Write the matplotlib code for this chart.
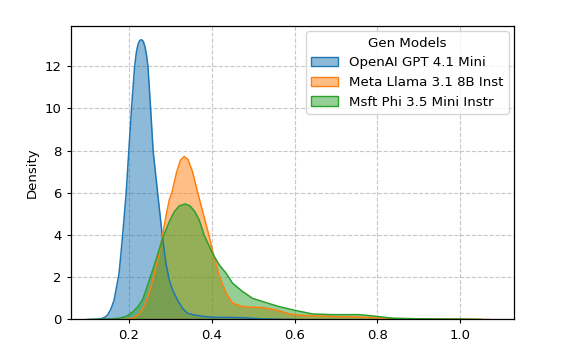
import matplotlib
matplotlib.use("Agg")
import matplotlib.pyplot as plt
from matplotlib.patches import Patch
from matplotlib.colors import to_rgba

models = ["OpenAI GPT 4.1 Mini", "Meta Llama 3.1 8B Inst", "Msft Phi 3.5 Mini Instr"]
colors = ["#1f77b4", "#ff7f0e", "#2ca02c"]

gpt_x = [0.105, 0.118, 0.128, 0.136, 0.143, 0.149, 0.157, 0.165, 0.177, 0.186, 0.194, 0.2005, 0.207,
         0.2145, 0.219, 0.223, 0.227, 0.231, 0.235, 0.239, 0.243, 0.2465, 0.2530, 0.2590, 0.270,
         0.281, 0.290, 0.298, 0.306, 0.318, 0.330, 0.342, 0.362, 0.387, 0.410, 0.440, 0.480, 0.520,
         0.560, 0.600]
gpt_y = [0.0, 0.005, 0.02, 0.05, 0.11, 0.21, 0.48, 0.92, 2.19, 4.08, 5.98, 8.0, 10.0,
         12.0, 12.7, 13.05, 13.22, 13.25, 13.18, 12.95, 12.55, 12.0, 10.0, 8.0, 5.98,
         4.0, 2.66, 1.87, 1.40, 0.92, 0.53, 0.29, 0.20, 0.13, 0.10, 0.10, 0.08, 0.03,
         0.01, 0.0]

llama_x = [0.190, 0.210, 0.222, 0.234, 0.246, 0.256, 0.266, 0.274, 0.282, 0.290, 0.298, 0.305,
           0.316, 0.325, 0.334, 0.343, 0.354, 0.366, 0.380, 0.393, 0.403, 0.419, 0.435, 0.451,
           0.475, 0.500, 0.523, 0.555, 0.588, 0.612, 0.650, 0.700, 0.750, 0.800, 0.850, 0.900,
           1.000, 1.070]
llama_y = [0.0, 0.06, 0.20, 0.50, 1.05, 1.70, 2.50, 3.20, 4.0, 4.9, 5.66, 6.06,
           7.0, 7.55, 7.72, 7.58, 7.0, 6.06, 5.0, 4.04, 3.2, 2.03, 1.24, 0.77,
           0.61, 0.58, 0.56, 0.45, 0.26, 0.20, 0.17, 0.14, 0.12, 0.08, 0.03, 0.02,
           0.01, 0.0]

phi_x = [0.100, 0.130, 0.160, 0.177, 0.195, 0.210, 0.222, 0.234, 0.250, 0.266, 0.282, 0.298,
         0.310, 0.322, 0.336, 0.348, 0.360, 0.370, 0.382, 0.402, 0.418, 0.435, 0.451, 0.475,
         0.499, 0.531, 0.563, 0.604, 0.644, 0.692, 0.756, 0.788, 0.837, 0.900, 1.000, 1.050]
phi_y = [0.0, 0.01, 0.03, 0.06, 0.15, 0.35, 0.60, 0.95, 1.87, 2.82, 3.85, 4.63,
         5.10, 5.38, 5.47, 5.38, 5.10, 4.72, 4.0, 3.14, 2.60, 2.19, 1.71, 1.32,
         1.0, 0.80, 0.61, 0.42, 0.26, 0.23, 0.23, 0.17, 0.06, 0.03, 0.02, 0.0]

series = [(gpt_x, gpt_y), (llama_x, llama_y), (phi_x, phi_y)]

fig = plt.figure(figsize=(5.71, 3.42), dpi=100)
ax = fig.add_axes([0.1243, 0.0658, 0.7758, 0.8582])

for (xs, ys), c in zip(series, colors):
    ax.fill_between(xs, ys, 0, color=c, alpha=0.5, linewidth=0)
    ax.plot(xs, ys, color=c, linewidth=1.1)

ax.set_xlim(0.061, 1.129)
ax.set_ylim(0, 13.9)
ax.set_xticks([0.2, 0.4, 0.6, 0.8, 1.0])
ax.set_yticks([0, 2, 4, 6, 8, 10, 12])
ax.tick_params(labelsize=9.5, length=3.2, width=0.8, pad=3.5)
ax.set_ylabel("Density", fontsize=9.5, labelpad=4)
ax.grid(True, linestyle="--", color="#b0b0b0", alpha=0.7, linewidth=0.8)
ax.set_axisbelow(True)
for s in ax.spines.values():
    s.set_linewidth(0.9)

handles = [Patch(facecolor=to_rgba(c, 0.5), edgecolor=c, linewidth=1.0) for c in colors]
ax.legend(handles, models, title="Gen Models", loc="upper right", fontsize=9.6, title_fontsize=9.6,
          borderaxespad=0.4)

fig.savefig("out.png", dpi=100)
